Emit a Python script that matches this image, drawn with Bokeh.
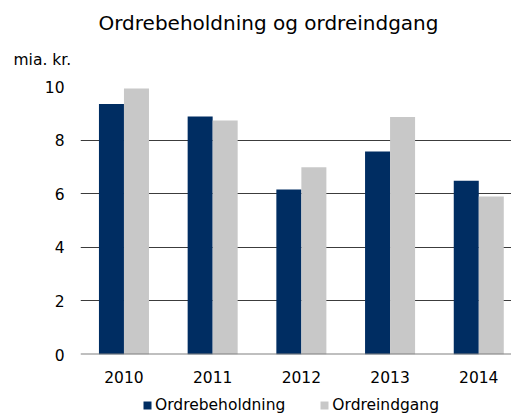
import numpy as np
from bokeh.plotting import figure
from bokeh.layouts import column
from bokeh.models import (ColumnDataSource, Range1d, FixedTicker, Legend,
                          LegendItem, Span, Title)
from bokeh.embed import file_html
from bokeh.resources import INLINE

# ---- data ----
years = ["2010", "2011", "2012", "2013", "2014"]
ordrebeholdning = [9.35, 8.88, 6.16, 7.57, 6.48]
ordreindgang = [9.93, 8.73, 6.99, 8.86, 5.90]
y_ticks = [0, 2, 4, 6, 8, 10]

title_text = "Ordrebeholdning og ordreindgang"
unit_text = "mia. kr."
series_names = ["Ordrebeholdning", "Ordreindgang"]
colors = ["#002D62", "#C8C8C8"]

FONT = "DejaVu Sans"
idx = np.arange(len(years))
bw = 0.282

src = ColumnDataSource(dict(
    x1=idx - bw / 2, x2=idx + bw / 2,
    a=ordrebeholdning, b=ordreindgang,
))

# ---------------- main chart ----------------
p = figure(width=511, height=388, output_backend="svg",
           toolbar_location=None,
           x_range=Range1d(-0.49, 4.369), y_range=Range1d(0, 10),
           min_border_left=80, min_border_right=0, min_border_top=86,
           min_border_bottom=34)
p.title.text = ""
p.outline_line_color = None
p.background_fill_color = "white"
p.border_fill_color = "white"

p.vbar(x="x1", top="a", width=bw, source=src, fill_color=colors[0],
       line_color=None)
p.vbar(x="x2", top="b", width=bw, source=src, fill_color=colors[1],
       line_color=None)

p.xaxis.ticker = FixedTicker(ticks=list(idx))
p.xaxis.major_label_overrides = {int(i): y for i, y in zip(idx, years)}
p.yaxis.ticker = FixedTicker(ticks=y_ticks)
for ax in (p.xaxis, p.yaxis):
    ax.axis_line_color = None
    ax.major_tick_line_color = None
    ax.minor_tick_line_color = None
    ax.major_tick_out = 0
    ax.major_tick_in = 0
    ax.minor_tick_out = 0
    ax.major_label_text_font = FONT
    ax.major_label_text_font_size = "15.5px"
    ax.major_label_text_color = "black"
p.xaxis.major_label_standoff = 16
p.yaxis.major_label_standoff = 16

p.xgrid.grid_line_color = None
p.ygrid.ticker = FixedTicker(ticks=y_ticks[1:])
p.ygrid.grid_line_color = "#3c3c3c"
p.ygrid.grid_line_width = 1

p.add_layout(Span(location=0, dimension="width", line_color="#808080",
                  line_width=2))

p.add_layout(Title(text=unit_text, align="left", offset=-67,
                   text_font=FONT, text_font_size="15.5px",
                   text_font_style="normal", text_color="black",
                   standoff=36), "above")
p.add_layout(Title(text=title_text, align="left", offset=18,
                   text_font=FONT, text_font_size="20px",
                   text_font_style="normal", text_color="black",
                   standoff=-9), "above")

# ---------------- legend strip ----------------
q = figure(width=511, height=26, output_backend="svg", toolbar_location=None,
           x_range=Range1d(-40, -39), y_range=Range1d(40, 41),
           x_axis_location=None, y_axis_location=None,
           min_border_left=0, min_border_right=0, min_border_top=0,
           min_border_bottom=0)
q.title.text = ""
q.grid.visible = False
q.outline_line_color = None
q.background_fill_color = "white"
q.border_fill_color = "white"
l1 = q.vbar(x="x1", top="a", width=bw, source=src, fill_color=colors[0],
            line_color=None)
l2 = q.vbar(x="x2", top="b", width=bw, source=src, fill_color=colors[1],
            line_color=None)

legend = Legend(items=[LegendItem(label=series_names[0], renderers=[l1]),
                       LegendItem(label=series_names[1], renderers=[l2])],
                location=(62, 0), orientation="horizontal",
                glyph_width=10, glyph_height=10, label_standoff=3,
                spacing=34, padding=0, margin=0,
                label_text_font=FONT, label_text_font_size="15.5px",
                label_text_color="black",
                background_fill_alpha=0, border_line_alpha=0)
q.add_layout(legend)

layout = column(p, q, spacing=0)
open("out.html", "w").write(file_html(layout, INLINE))
